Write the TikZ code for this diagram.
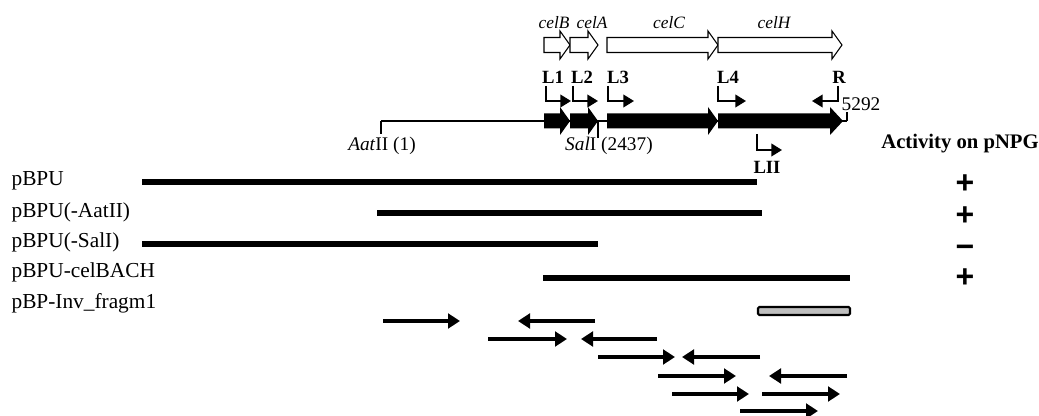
\documentclass[tikz,border=0pt]{standalone}
\usepackage{fontspec}
\setmainfont{Liberation Serif}
\newfontfamily\signfont{Liberation Sans}
\usetikzlibrary{arrows.meta, positioning}
\tikzstyle{every node}=[font=\fontsize{16}{18}\selectfont, inner sep=1pt]
\tikzstyle{clone}=[line width=3.8pt]
\tikzstyle{frag}=[line width=2.4pt, -{Triangle[length=9pt,width=11pt]}]
\tikzstyle{prom}=[line width=1.4pt, -{Triangle[length=8pt,width=9.5pt]}]
\tikzstyle{site}=[line width=0.8pt]
\tikzstyle{orfopen}=[draw, fill=white, line width=0.8pt]
\tikzstyle{orfcod}=[fill=black]
\tikzstyle{gene}=[font=\fontsize{13}{15}\selectfont\itshape]
\tikzstyle{pname}=[font=\fontsize{14}{16}\selectfont\bfseries]
\tikzstyle{posn}=[font=\fontsize{14.5}{16}\selectfont]
\tikzstyle{construct}=[anchor=west]
\tikzstyle{sign}=[font=\fontsize{24}{26}\selectfont\signfont\bfseries, inner sep=0pt,
  text height=0.62em, text depth=0pt]
% #1 style, #2 start, #3 head base, #4 tip, #5 centre line
\newcommand{\orf}[5]{\path[#1] (#2,#5-7.5) -- (#3,#5-7.5) -- (#3,#5-14) -- (#4,#5)
  -- (#3,#5+14) -- (#3,#5+7.5) -- (#2,#5+7.5) -- cycle;}

\begin{document}
\begin{tikzpicture}[x=0.75pt, y=-0.75pt]
    \useasboundingbox (0,0) rectangle (1039,416);
    \node[gene] (celB) at (554,23) {celB};
    \node[gene] (celA) at (592,23) {celA};
    \node[gene] (celC) at (669,23) {celC};
    \node[gene] (celH) at (774,23) {celH};
    \orf{orfopen}{544}{560}{570}{45}
    \orf{orfopen}{570}{588}{598}{45}
    \orf{orfopen}{607}{708}{718}{45}
    \orf{orfopen}{718}{832}{842}{45}

    \node[pname] (L1) at (553,77) {L1};
    \node[pname] (L2) at (582,77) {L2};
    \node[pname] (L3) at (618,77) {L3};
    \node[pname] (L4) at (728,77) {L4};
    \node[pname] (R) at (839,77) {R};
    \node[pname] (LII) at (767,167) {LII};
    \draw[prom] (546,86) |- (571,101);
    \draw[prom] (573,86) |- (598,101);
    \draw[prom] (608,86) |- (634,101);
    \draw[prom] (718,86) |- (746,101);
    \draw[prom] (838,86) |- (812,101);
    \draw[prom] (757,134) |- (782,150);

    \draw[site] (381,121) -- (847,121);
    \draw[site] (381,121) -- (381,134);
    \draw[site] (598,121) -- (598,138);
    \draw[site] (847,121) -- (847,112);
    \orf{orfcod}{544}{560}{570}{121}
    \orf{orfcod}{570}{588}{598}{121}
    \orf{orfcod}{607}{708}{718}{121}
    \orf{orfcod}{718}{830}{843}{121}
    \node[posn] (aat) at (382,146) {\textit{Aat}II (1)};
    \node[posn] (sal) at (609,146) {\textit{Sal}I (2437)};
    \node[posn] (end) at (861,104) {5292};

    \node[font=\fontsize{15.5}{18}\selectfont\bfseries] (act) at (960,144) {Activity on pNPG};

    \node[construct] (pBPU) at (10,181) {pBPU};
    \node[construct] (dAat) at (10,212) {pBPU(-AatII)};
    \node[construct] (dSal) at (10,242) {pBPU(-SalI)};
    \node[construct] (BACH) at (10,272) {pBPU-celBACH};
    \node[construct] (inv) at (10,303) {pBP-Inv\_fragm1};

    \draw[clone] (142,182) -- (757,182);
    \draw[clone] (377,213) -- (762,213);
    \draw[clone] (142,244) -- (598,244);
    \draw[clone] (543,278) -- (850,278);
    \draw[line width=1.6pt, fill=gray!50, rounded corners=1pt] (758,307) rectangle (850,315);

    \node[sign] (aPBPU) at (965,189) {+};
    \node[sign] (aAat) at (965,221) {+};
    \node[sign] (aSal) at (965,253) {−};
    \node[sign] (aBACH) at (965,283) {+};

    \draw[frag] (383,321) -- (460,321);
    \draw[frag] (595,321) -- (518,321);
    \draw[frag] (488,339) -- (567,339);
    \draw[frag] (657,339) -- (581,339);
    \draw[frag] (598,357) -- (675,357);
    \draw[frag] (760,357) -- (682,357);
    \draw[frag] (658,376) -- (736,376);
    \draw[frag] (847,376) -- (769,376);
    \draw[frag] (672,394) -- (749,394);
    \draw[frag] (762,394) -- (840,394);
    \draw[frag] (740,411) -- (818,411);
\end{tikzpicture}
\end{document}
